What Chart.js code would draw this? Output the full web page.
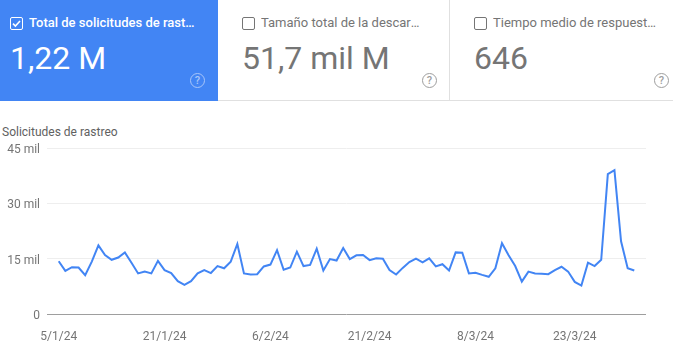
<!DOCTYPE html>
<html>
<head>
<meta charset="utf-8">
<title>Solicitudes de rastreo</title>
<script src="https://cdn.jsdelivr.net/npm/chart.js@4/dist/chart.umd.min.js"></script>
<style>
	html, body { margin: 0; padding: 0; background: #fff; }
	body { position: relative; width: 673px; height: 354px; overflow: hidden; font-family: Roboto, sans-serif; color: #757575; }
	.card { position: absolute; top: 0; height: 101px; box-sizing: border-box; border-bottom: 1px solid #e0e0e0; }
	.card.on { background: #4285f4; color: #fff; border-bottom: 0; height: 101px; }
	.card .box { position: absolute; left: 10px; top: 17px; width: 11px; height: 11px; border: 1px solid #757575; border-radius: 2px; }
	.card.on .box { border-color: #fff; }
	.card .box svg { position: absolute; left: 0; top: 0; }
	.card .name { position: absolute; left: 29px; top: 14px; height: 17px; font-size: 13px; line-height: 17px; white-space: nowrap; overflow: hidden; text-overflow: ellipsis; }
	.card.on .name { font-weight: 500; }
	.card .big { position: absolute; left: 10px; top: 39px; font-size: 32px; line-height: 38px; white-space: nowrap; }
	.card .help { position: absolute; top: 73px; width: 13px; height: 13px; border: 1px solid #9e9e9e; border-radius: 50%; color: #9e9e9e; font-size: 11px; line-height: 13px; text-align: center; font-weight: 500; }
	.card.on .help { border-color: #a9c6f9; color: #a9c6f9; }
	#crawlTitle { position: absolute; left: 2px; top: 125px; font-size: 12px; line-height: 14px; color: #616161; }
	#wrap { position: absolute; left: 0; top: 100px; width: 673px; height: 254px; }
</style>
</head>
<body>
	<div class="card on" style="left:0;width:218px">
		<div class="box"><svg width="11" height="11" viewBox="0 0 11 11"><path d="M2 5.6 L4.4 8 L9 3" fill="none" stroke="#fff" stroke-width="1.6"/></svg></div>
		<div class="name" style="width:168px">Total de solicitudes de rastreo</div>
		<div class="big">1,22 M</div>
		<div class="help" style="left:190px">?</div>
	</div>
	<div class="card" style="left:218px;width:232px;border-right:1px solid #e0e0e0">
		<div class="box" style="left:24px"></div>
		<div class="name" style="left:43px;width:160px">Tamaño total de la descarga</div>
		<div class="big" style="left:24px">51,7 mil M</div>
		<div class="help" style="left:204px">?</div>
	</div>
	<div class="card" style="left:450px;width:223px">
		<div class="box" style="left:24px"></div>
		<div class="name" style="left:43px;width:163px">Tiempo medio de respuesta (ms)</div>
		<div class="big" style="left:24px">646</div>
		<div class="help" style="left:204px">?</div>
	</div>
	<div id="crawlTitle">Solicitudes de rastreo</div>
	<div id="wrap"><canvas id="crawlChart"></canvas></div>

<script>
	// Values, one per day from 5/1/24 to 1/4/24 (thousands)
	const crawlRequests = [
		14.3, 11.7, 12.7, 12.6, 10.5, 14.2, 18.6, 16.0, 14.7, 15.3, 16.7,
		13.9, 11.0, 11.5, 11.0, 14.4, 11.9, 11.1, 8.9, 7.9, 8.9, 11.0,
		11.9, 11.1, 13.0, 12.4, 14.2, 19.0, 11.0, 10.7, 10.8, 12.9, 13.4,
		17.3, 12.0, 12.6, 16.9, 13.0, 13.3, 17.7, 11.8, 14.9, 14.5, 17.9,
		14.9, 15.9, 16.0, 14.6, 15.1, 15.0, 11.9, 10.7, 12.5, 14.1, 15.0,
		14.0, 15.1, 12.9, 13.5, 11.8, 16.7, 16.6, 11.0, 11.2, 10.6, 10.1,
		12.4, 19.2, 15.9, 13.0, 8.8, 11.5, 11.0, 10.9, 10.8, 11.9, 12.8,
		11.5, 8.7, 7.7, 13.9, 13.0, 14.7, 37.9, 39.0, 19.7, 12.4, 11.8
	]
	const dateTickIndex = [0, 16, 32, 47, 63, 78]
	const dateTickLabels = ['5/1/24', '21/1/24', '6/2/24', '21/2/24', '8/3/24', '23/3/24']
	const valueTicks = [0, 15, 30, 45]
	const valueTickLabels = ['0', '15 mil', '30 mil', '45 mil']

	const tickFont = { family: 'Roboto', size: 12 }

	new Chart(document.getElementById('crawlChart'), {
		type: 'line',
		data: {
			datasets: [{
				data: crawlRequests.map((v, i) => ({ x: i, y: v })),
				borderColor: '#4285f4',
				borderWidth: 2,
				pointRadius: 0,
				tension: 0,
				fill: false
			}]
		},
		options: {
			responsive: true,
			maintainAspectRatio: false,
			animation: false,
			layout: { padding: { top: 48, right: 27 } },
			plugins: {
				legend: { display: false },
				tooltip: { enabled: false }
			},
			scales: {
				x: {
					type: 'linear',
					min: -1.77,
					max: 88.77,
					afterBuildTicks: (scale) => { scale.ticks = dateTickIndex.map(v => ({ value: v })) },
					afterFit: (scale) => { scale.height = 40 },
					grid: { display: false },
					border: { display: false },
					ticks: {
						autoSkip: false,
						maxRotation: 0,
						padding: 8,
						color: '#757575',
						font: tickFont,
						callback: (v) => dateTickLabels[dateTickIndex.indexOf(v)]
					}
				},
				y: {
					min: 0,
					max: 45,
					afterBuildTicks: (scale) => { scale.ticks = valueTicks.map(v => ({ value: v })) },
					afterFit: (scale) => { scale.width = 47 },
					grid: {
						color: (ctx) => ctx.tick.value === 0 ? '#9e9e9e' : '#eeeeee',
						drawTicks: false
					},
					border: { display: false },
					ticks: {
						padding: 7,
						color: '#757575',
						// two-line label with a short line height drops the text 2px below the grid line
						font: { family: 'Roboto', size: 12, lineHeight: '4px' },
						callback: (v) => ['', valueTickLabels[valueTicks.indexOf(v)]]
					}
				}
			}
		}
	})
</script>
</body>
</html>
